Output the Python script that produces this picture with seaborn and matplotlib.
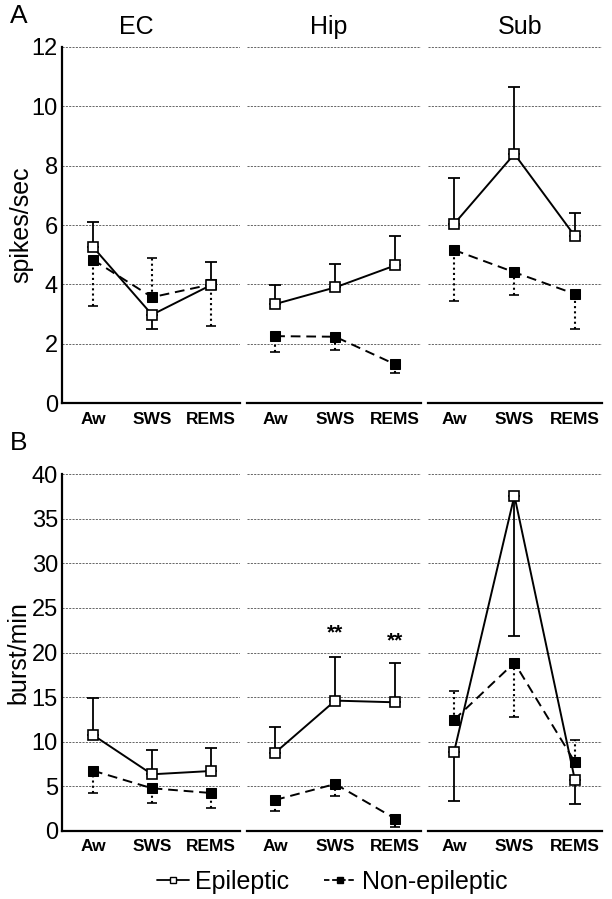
import numpy as np
import pandas as pd
import seaborn as sns
import matplotlib
matplotlib.use("Agg")
import matplotlib.pyplot as plt
from matplotlib.lines import Line2D

states = ["Aw", "SWS", "REMS"]
regions = ["EC", "Hip", "Sub"]

# panel A - spikes/sec (rows: EC, Hip, Sub); *_bar = end of the error bar
spk_epi = [[5.26, 2.98, 3.98], [3.34, 3.90, 4.64], [6.03, 8.39, 5.63]]
spk_epi_bar = [[6.09, 2.51, 4.77], [3.98, 4.68, 5.63], [7.58, 10.65, 6.41]]
spk_non = [[4.83, 3.57, 4.00], [2.26, 2.24, 1.31], [5.16, 4.41, 3.68]]
spk_non_bar = [[3.27, 4.88, 2.61], [1.74, 1.79, 1.03], [3.45, 3.64, 2.49]]

# panel B - burst/min
bst_epi = [[10.74, 6.33, 6.70], [8.76, 14.60, 14.41], [8.80, 37.6, 5.73]]
bst_epi_bar = [[14.93, 9.06, 9.25], [11.61, 19.5, 18.86], [3.33, 21.9, 3.03]]
bst_non = [[6.74, 4.76, 4.23], [3.45, 5.24, 1.35], [12.43, 18.86, 7.71]]
bst_non_bar = [[4.27, 3.07, 2.58], [2.21, 3.90, 0.45], [15.72, 12.8, 10.18]]

# significance stars (panel B, Hip)
star_states = ["SWS", "REMS"]
star_y = [22.2, 21.3]

sns.set_style("white")
plt.rcParams['font.family'] = ['Liberation Sans', 'DejaVu Sans']
for k in ["text.color", "axes.labelcolor", "xtick.color", "ytick.color"]:
    plt.rcParams[k] = "black"

fig = plt.figure(figsize=(6.12, 8.99), dpi=100)
W, H = 612.0, 899.0
lefts = [62, 247, 428]
widths = [178, 174, 174]
xlims = [(-0.525, 2.49), (-0.47, 2.43), (-0.43, 2.45)]
title_x = [0.42, 0.47, 0.53]


def one_sided(mean, bar):
    mean = np.array(mean)
    bar = np.array(bar)
    lo = np.where(bar < mean, mean - bar, 0)
    hi = np.where(bar > mean, bar - mean, 0)
    return [lo, hi]


def draw_row(top, bottom, epi, epi_bar, non, non_bar, ymax, yticks, ylabel, label_x, titles):
    axes = []
    for i, reg in enumerate(regions):
        ax = fig.add_axes([lefts[i] / W, 1 - bottom / H, widths[i] / W, (bottom - top) / H])
        df = pd.DataFrame({
            "x": [0, 1, 2] * 2,
            "val": epi[i] + non[i],
            "group": ["Epileptic"] * 3 + ["Non-epileptic"] * 3,
        })
        d1 = df[df.group == "Epileptic"]
        d2 = df[df.group == "Non-epileptic"]
        sns.lineplot(data=d2, x="x", y="val", ax=ax, color="black", lw=1.4,
                     linestyle=(0, (5, 3)), marker="s", markersize=7,
                     markerfacecolor="black", markeredgecolor="black",
                     errorbar=None, legend=False, zorder=3)
        sns.lineplot(data=d1, x="x", y="val", ax=ax, color="black", lw=1.4,
                     marker="s", markersize=6.5, markerfacecolor="white",
                     markeredgecolor="black", markeredgewidth=1.2,
                     errorbar=None, legend=False, zorder=4)
        ax.errorbar([0, 1, 2], epi[i], yerr=one_sided(epi[i], epi_bar[i]),
                    fmt="none", ecolor="black", elinewidth=1.3, capsize=4.5,
                    capthick=1.3, zorder=2)
        eb2 = ax.errorbar([0, 1, 2], non[i], yerr=one_sided(non[i], non_bar[i]),
                          fmt="none", ecolor="black", elinewidth=1.5, capsize=3.5,
                          capthick=1.2, zorder=2)
        eb2[2][0].set_linestyle((0, (1, 1.5)))

        ax.set_xlim(*xlims[i])
        ax.set_ylim(0, ymax)
        ax.set_yticks(yticks)
        ax.set_xticks([0, 1, 2])
        ax.set_xticklabels(states, fontsize=12.5, fontweight="bold")
        ax.tick_params(axis="both", length=0)
        ax.tick_params(axis="x", pad=6)
        ax.yaxis.grid(True, linestyle=(0, (2.5, 1.5)), color="0.3", lw=0.6)
        ax.set_axisbelow(True)
        for s in ["top", "right"]:
            ax.spines[s].set_visible(False)
        ax.spines["bottom"].set_linewidth(1.6)
        ax.spines["bottom"].set_color("black")
        ax.set_xlabel("")
        if i == 0:
            ax.spines["left"].set_linewidth(1.6)
            ax.spines["left"].set_color("black")
            ax.tick_params(axis="y", labelsize=17, pad=3)
            ax.set_ylabel(ylabel, fontsize=18)
            ax.yaxis.set_label_coords(label_x, 0.5)
        else:
            ax.spines["left"].set_visible(False)
            ax.set_yticklabels([])
            ax.set_ylabel("")
        if titles:
            ax.set_title(reg, fontsize=18, x=title_x[i], pad=9)
        axes.append(ax)
    return axes

axA = draw_row(46.7, 403.3, spk_epi, spk_epi_bar, spk_non, spk_non_bar,
               12, [0, 2, 4, 6, 8, 10, 12], "spikes/sec", -0.163, True)
axB = draw_row(474.3, 830.7, bst_epi, bst_epi_bar, bst_non, bst_non_bar,
               40, [0, 5, 10, 15, 20, 25, 30, 35, 40], "burst/min", -0.18, False)

for s, yv in zip(star_states, star_y):
    axB[1].text(states.index(s), yv, "**", ha="center", va="center",
                fontsize=15, fontweight="bold")

fig.text(0.016, 0.982, "A", fontsize=19, va="center", ha="left")
fig.text(0.016, 1 - 443 / H, "B", fontsize=19, va="center", ha="left")

handles = [
    Line2D([], [], color="black", lw=1.3, marker="s", markersize=5,
           markerfacecolor="white", markeredgecolor="black"),
    Line2D([], [], color="black", lw=1.3, linestyle=(0, (3, 1.5)), marker="s",
           markersize=5, markerfacecolor="black", markeredgecolor="black"),
]
fig.legend(handles, ["Epileptic", "Non-epileptic"], loc="center",
           bbox_to_anchor=(0.543, 1 - 882 / H), ncol=2, frameon=False,
           fontsize=18, handlelength=1.25, handletextpad=0.25, columnspacing=1.4)

fig.savefig("out.png", dpi=100)
